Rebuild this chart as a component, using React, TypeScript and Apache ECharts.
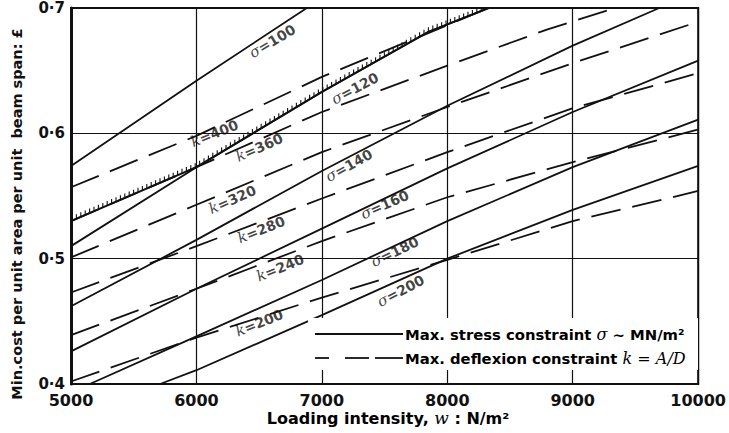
import React, { useEffect, useRef } from "react";
import * as echarts from "echarts";

// ---- data ----
const xTicks = [5000, 6000, 7000, 8000, 9000, 10000];
const yTicks = [0.4, 0.5, 0.6, 0.7];

// Max. stress constraint lines, σ (MN/m²): [w, cost]
const sigma100 = [[5000, 0.574], [6000, 0.642], [6880, 0.7]];
const sigma120 = [[5000, 0.51], [6000, 0.573], [7000, 0.633], [7850, 0.681], [8330, 0.7]];
const sigma140 = [[5000, 0.462], [6000, 0.515], [7000, 0.57], [8000, 0.622], [9000, 0.67], [9690, 0.7]];
const sigma160 = [[5000, 0.426], [6000, 0.476], [7000, 0.524], [8000, 0.572], [9000, 0.617], [10000, 0.658]];
const sigma180 = [[5150, 0.4], [6000, 0.438], [7000, 0.483], [8000, 0.53], [9000, 0.573], [10000, 0.611]];
const sigma200 = [[5710, 0.4], [6000, 0.411], [7000, 0.455], [8000, 0.5], [9000, 0.539], [10000, 0.574]];

// Max. deflexion constraint lines, k = A/D: [w, cost]
const k200 = [[5000, 0.402], [6000, 0.437], [7000, 0.469], [8000, 0.499], [9000, 0.53], [10000, 0.554]];
const k240 = [[5000, 0.439], [6000, 0.476], [7000, 0.514], [8000, 0.549], [9000, 0.577], [10000, 0.603]];
const k280 = [[5000, 0.473], [6000, 0.51], [7000, 0.548], [8000, 0.585], [9000, 0.62], [10000, 0.648]];
const k320 = [[5000, 0.501], [6000, 0.543], [7000, 0.585], [8000, 0.621], [9000, 0.656], [10000, 0.689]];
const k360 = [[5000, 0.53], [6000, 0.573], [7000, 0.617], [8000, 0.654], [8800, 0.683], [9340, 0.7]];
const k400 = [[5000, 0.557], [6000, 0.598], [7000, 0.645], [7800, 0.678], [8330, 0.7]];

// Curve labels: name, anchor [w, cost]
const curveLabelNames = ["σ=100", "k=400", "k=360", "σ=120", "k=320", "σ=140", "k=280", "σ=160", "k=240", "σ=180", "σ=200", "k=200"];
const curveLabelAnchors = [
  [6605, 0.6736], [6144, 0.6], [6501, 0.5888], [7264, 0.636], [6287, 0.5472], [7216, 0.5744],
  [6517, 0.5232], [7502, 0.5432], [6668, 0.4928], [7581, 0.5056], [7629, 0.4744], [6501, 0.4488],
];

// ---- styling ----
const INK = "#111111";
const SANS = "DejaVu Sans";
const SERIF = "DejaVu Serif";
const labelAngles = [31, 22, 24, 28, 24, 29, 22, 24, 22, 26, 28, 22];

export default function App() {
  const ref = useRef<HTMLDivElement>(null);

  useEffect(() => {
    document.body.style.margin = "0";
    if (!ref.current) return;
    const chart = echarts.init(ref.current, undefined, { renderer: "svg" });

    const stress = [sigma100, sigma120, sigma140, sigma160, sigma180, sigma200];
    const deflexion = [k200, k240, k280, k320, k360, k400];
    const boundary = [
      ...k360.filter((p) => p[0] <= 6000),
      ...sigma120.filter((p) => p[0] > 6000),
    ];

    const series: any[] = [];
    stress.forEach((d, i) =>
      series.push({
        type: "line",
        name: "stress" + i,
        data: d,
        showSymbol: false,
        silent: true,
        clip: true,
        lineStyle: { color: INK, width: 1.8 },
        z: 3,
      })
    );
    deflexion.forEach((d, i) =>
      series.push({
        type: "line",
        name: "defl" + i,
        data: d,
        showSymbol: false,
        silent: true,
        clip: true,
        lineStyle: { color: INK, width: 1.8, type: [30, 12] },
        z: 3,
      })
    );
    // hatched boundary ticks
    series.push({
      type: "custom",
      silent: true,
      clip: true,
      z: 4,
      data: [boundary[0]],
      renderItem: (_p: any, api: any) => {
        const pts = boundary.map((p) => api.coord(p));
        const children: any[] = [];
        const step = 4.4;
        let x = pts[0][0] + 1;
        for (let i = 0; i < pts.length - 1; i++) {
          const [x1, y1] = pts[i];
          const [x2, y2] = pts[i + 1];
          for (; x < x2; x += step) {
            const y = y1 + ((y2 - y1) * (x - x1)) / (x2 - x1);
            children.push({
              type: "line",
              shape: { x1: x, y1: y, x2: x, y2: y - 4.5 },
              style: { stroke: INK, lineWidth: 1.1 },
            });
          }
        }
        children.push({
          type: "polyline",
          shape: { points: pts },
          style: { stroke: INK, lineWidth: 2, fill: null },
        });
        return { type: "group", children };
      },
    });
    // curve labels
    series.push({
      type: "scatter",
      silent: true,
      symbol: "circle",
      symbolSize: 1,
      itemStyle: { color: "rgba(0,0,0,0)" },
      z: 5,
      data: curveLabelNames.map((n, i) => ({
        name: n,
        value: curveLabelAnchors[i],
        label: { rotate: labelAngles[i] },
      })),
      label: {
        show: true,
        position: "inside",
        align: "center",
        verticalAlign: "middle",
        formatter: (p: any) => `{i|${p.name.charAt(0)}}{n|${p.name.slice(1)}}`,
        rich: {
          i: { fontFamily: SERIF, fontStyle: "italic", fontSize: 15, color: INK },
          n: { fontFamily: SANS, fontWeight: "bold", fontSize: 14, color: INK },
        },
      },
    });

    chart.setOption({
      animation: false,
      backgroundColor: "#fff",
      grid: {
        left: 71,
        right: 29,
        top: 8,
        bottom: 49,
        show: true,
        borderColor: INK,
        borderWidth: 2,
        containLabel: false,
      },
      xAxis: {
        type: "value",
        min: xTicks[0],
        max: xTicks[xTicks.length - 1],
        interval: 1000,
        axisLine: { show: true, lineStyle: { color: INK, width: 2.2 } },
        axisTick: { show: false },
        splitLine: { show: true, lineStyle: { color: INK, width: 1.2 } },
        axisLabel: {
          color: INK,
          fontFamily: SANS,
          fontWeight: "bold",
          fontSize: 16,
          margin: 8,
          formatter: (v: number) => String(v),
        },
      },
      yAxis: {
        type: "value",
        min: yTicks[0],
        max: yTicks[yTicks.length - 1],
        interval: 0.1,
        axisLine: { show: true, lineStyle: { color: INK, width: 3 } },
        axisTick: { show: false },
        splitLine: { show: true, lineStyle: { color: INK, width: 1.2 } },
        axisLabel: {
          color: INK,
          fontFamily: SANS,
          fontWeight: "bold",
          fontSize: 15,
          margin: 6,
          formatter: (v: number) => v.toFixed(1).replace(".", "·"),
        },
      },
      graphic: [
        {
          type: "text",
          x: 17,
          y: 214,
          rotation: Math.PI / 2,
          style: {
            text: "Min.cost per unit area per unit  beam span: £",
            fontFamily: SANS,
            fontWeight: "bold",
            fontSize: 14.5,
            fill: INK,
            align: "center",
            verticalAlign: "middle",
          },
        },
        {
          type: "text",
          x: 388,
          y: 418,
          style: {
            text: "{a|Loading intensity, }{w|w}{a| : N/m²}",
            rich: {
              a: { fontFamily: SANS, fontWeight: "bold", fontSize: 16, color: INK },
              w: { fontFamily: SERIF, fontStyle: "italic", fontSize: 17, color: INK },
            },
            align: "center",
            verticalAlign: "middle",
          },
        },
        {
          type: "rect",
          z: 50,
          shape: { x: 308, y: 318, width: 390, height: 52 },
          style: { fill: "#fff" },
        },
        {
          type: "line",
          z: 51,
          shape: { x1: 315, y1: 334, x2: 403, y2: 334 },
          style: { stroke: INK, lineWidth: 1.8 },
        },
        {
          type: "line",
          z: 51,
          shape: { x1: 315, y1: 358, x2: 329, y2: 358 },
          style: { stroke: INK, lineWidth: 1.8 },
        },
        {
          type: "line",
          z: 51,
          shape: { x1: 345, y1: 358, x2: 369, y2: 358 },
          style: { stroke: INK, lineWidth: 1.8 },
        },
        {
          type: "line",
          z: 51,
          shape: { x1: 375, y1: 358, x2: 403, y2: 358 },
          style: { stroke: INK, lineWidth: 1.8 },
        },
        {
          type: "text",
          z: 52,
          x: 405,
          y: 334,
          style: {
            text: "{a|Max. stress constraint }{i|σ}{a| ~ MN/m²}",
            rich: {
              a: { fontFamily: SANS, fontWeight: "bold", fontSize: 14.8, color: INK },
              i: { fontFamily: SERIF, fontStyle: "italic", fontSize: 16, color: INK },
            },
            align: "left",
            verticalAlign: "middle",
          },
        },
        {
          type: "text",
          z: 52,
          x: 405,
          y: 358,
          style: {
            text: "{a|Max. deflexion constraint }{i|k = A/D}",
            rich: {
              a: { fontFamily: SANS, fontWeight: "bold", fontSize: 14.8, color: INK },
              i: { fontFamily: SERIF, fontStyle: "italic", fontSize: 16, color: INK },
            },
            align: "left",
            verticalAlign: "middle",
          },
        },
      ],
      series,
    });

    return () => chart.dispose();
  }, []);

  return <div ref={ref} style={{ width: 729, height: 433 }} />;
}
